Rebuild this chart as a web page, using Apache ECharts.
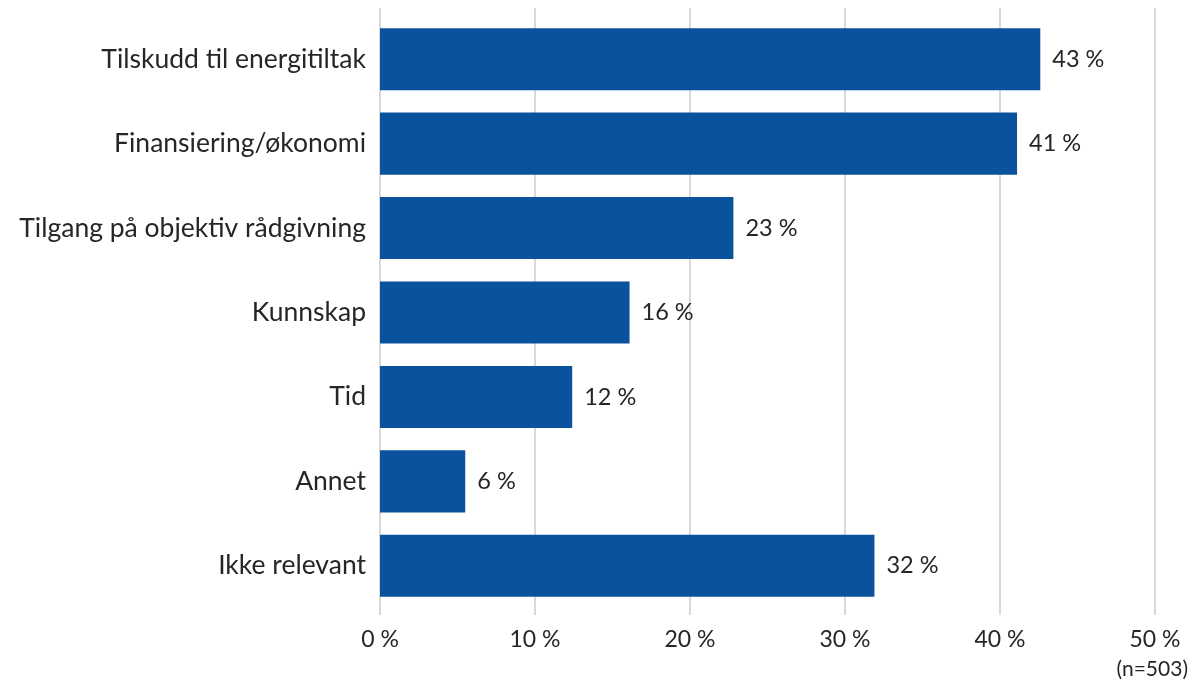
<!DOCTYPE html>
<html><head><meta charset="utf-8">
<script src="https://cdn.jsdelivr.net/npm/echarts@6/dist/echarts.min.js"></script>
<style>html,body{margin:0;padding:0;background:#fff}#c{width:1195px;height:684px}</style>
</head><body><div id="c"></div>
<script>
const categories = ["Tilskudd til energitiltak","Finansiering/økonomi","Tilgang på objektiv rådgivning","Kunnskap","Tid","Annet","Ikke relevant"];
const values = [42.6, 41.1, 22.8, 16.1, 12.4, 5.5, 31.9];
const xTicks = [0, 10, 20, 30, 40, 50];
const note = "(n=503)";
const font = "Lato, 'Open Sans', sans-serif";
const chart = echarts.init(document.getElementById('c'));
chart.setOption({
  animation: false,
  grid: [
    {left: 380, right: 40, top: 17, bottom: 76},
    {left: 380, right: 40, top: 8, bottom: 69}
  ],
  xAxis: [{
    type: 'value', gridIndex: 0, min: xTicks[0], max: xTicks[xTicks.length-1], interval: 10,
    axisLine: {show: false}, axisTick: {show: false}, splitLine: {show: false}, axisLabel: {show: false}
  }, {
    type: 'value', gridIndex: 1, min: xTicks[0], max: xTicks[xTicks.length-1], interval: 10,
    axisLine: {show: false}, axisTick: {show: false},
    splitLine: {lineStyle: {color: '#d9d9d9', width: 2}},
    axisLabel: {formatter: v => v + ' %', color: '#262626', fontSize: 23, fontFamily: font, margin: 13}
  }],
  yAxis: [{
    type: 'category', gridIndex: 0, data: categories, inverse: true,
    axisLine: {show: false}, axisTick: {show: false},
    axisLabel: {color: '#262626', fontSize: 26.5, fontFamily: font, margin: 14}
  }, {
    type: 'category', gridIndex: 1, data: categories, show: false
  }],
  series: [{
    type: 'bar', xAxisIndex: 0, yAxisIndex: 0, data: values, barCategoryGap: '26.5%', z: 3,
    itemStyle: {color: '#0A529C'},
    label: {show: true, position: 'right', distance: 12, color: '#262626', fontSize: 23.5, fontFamily: font,
      formatter: p => Math.round(p.value) + ' %'}
  }],
  graphic: [{type: 'text', right: 7, top: 659, style: {text: note, fill: '#262626', font: '21px ' + font}}]
});
</script></body></html>
